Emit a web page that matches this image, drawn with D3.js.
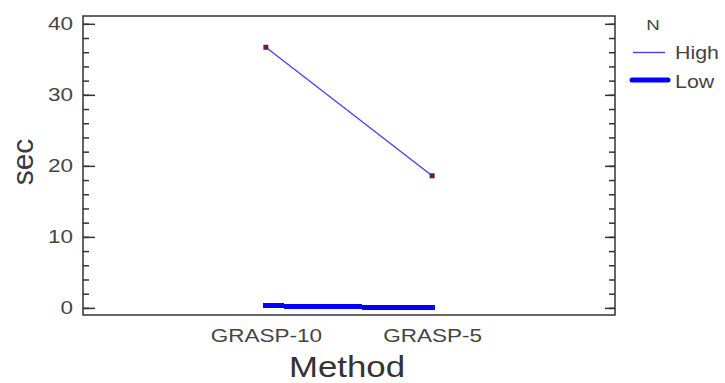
<!DOCTYPE html>
<html>
<head>
<meta charset="utf-8">
<script src="https://cdn.jsdelivr.net/npm/d3@7"></script>
<style>
  html, body { margin: 0; padding: 0; background: #fff; }
  svg { display: block; font-family: "Liberation Sans", Arial, sans-serif; }
</style>
</head>
<body>
<div id="chart"></div>
<script>
// data
const categories = ["GRASP-10", "GRASP-5"];
const seriesNames = ["High", "Low"];
const highValues = [36.7, 18.6];
const lowValues = [0.3, 0.0];
const yMajorTicks = [0, 10, 20, 30, 40];
const yMinorTicks = d3.range(0, 41, 2);

const W = 725, H = 383;
const margin = { top: 16, right: 110, bottom: 68, left: 83 };
const width = W - margin.left - margin.right;
const height = H - margin.top - margin.bottom;
const SX = 1.25; // text in the picture is stretched sideways

const svg = d3.select("#chart").append("svg")
  .attr("width", W).attr("height", H);

const g = svg.append("g")
  .attr("transform", `translate(${margin.left},${margin.top})`);

const x = d3.scalePoint().domain(categories).range([0, width]).padding(1.1);
const y = d3.scaleLinear().domain([-1, 41.1]).range([height, 0]);

// frame
g.append("rect")
  .attr("width", width).attr("height", height)
  .attr("fill", "none").attr("stroke", "#333").attr("stroke-width", 1.5);

// left axis: minor + major ticks pointing inward
g.append("g").call(d3.axisLeft(y).tickValues(yMinorTicks).tickSize(-6).tickFormat(""))
  .call(a => a.select(".domain").remove());
const yAxis = g.append("g")
  .call(d3.axisLeft(y).tickValues(yMajorTicks).tickSize(-12).tickPadding(10));
yAxis.select(".domain").remove();
yAxis.selectAll("text")
  .attr("x", 0)
  .attr("transform", `translate(-10,0) scale(${SX},1)`)
  .attr("fill", "#444").style("font-size", "18px");

// right axis
g.append("g").attr("transform", `translate(${width},0)`)
  .call(d3.axisRight(y).tickValues(yMinorTicks).tickSize(-6).tickFormat(""))
  .call(a => a.select(".domain").remove());
g.append("g").attr("transform", `translate(${width},0)`)
  .call(d3.axisRight(y).tickValues(yMajorTicks).tickSize(-10).tickFormat(""))
  .call(a => a.select(".domain").remove());

g.selectAll(".tick line").attr("stroke", "#333").attr("stroke-width", 1.5);

// bottom axis labels
const xAxis = g.append("g").attr("transform", `translate(0,${height})`)
  .call(d3.axisBottom(x).tickSize(0));
xAxis.select(".domain").remove();
xAxis.selectAll("text")
  .attr("y", 27.5).attr("dy", 0).attr("x", 0)
  .attr("transform", `scale(${SX},1)`)
  .attr("fill", "#444").style("font-size", "18px");

// axis titles
g.append("text")
  .attr("transform", `translate(${width / 2 - 2},${height + 62}) scale(1.2,1)`)
  .attr("text-anchor", "middle")
  .attr("fill", "#333").style("font-size", "29px")
  .text("Method");

svg.append("text")
  .attr("transform", `translate(33,162) rotate(-90)`)
  .attr("text-anchor", "middle")
  .attr("fill", "#3a3a44").style("font-size", "30px")
  .text("sec");

// lines
const line = d3.line().x((d, i) => x(categories[i])).y(d => y(d));

g.append("path").datum(lowValues)
  .attr("d", line).attr("fill", "none")
  .attr("stroke", "#0000ff").attr("stroke-width", 5)
  .attr("stroke-linecap", "square")
  .attr("shape-rendering", "crispEdges");

g.append("path").datum(highValues)
  .attr("d", line).attr("fill", "none")
  .attr("stroke", "#4444ee").attr("stroke-width", 1.4);

g.selectAll(".pt").data(highValues).join("rect")
  .attr("class", "pt")
  .attr("x", (d, i) => x(categories[i]) - 2.5)
  .attr("y", d => y(d) - 2.5)
  .attr("width", 5).attr("height", 5)
  .attr("fill", "#6e1848");

// legend
const legend = svg.append("g");
legend.append("text")
  .attr("transform", `translate(653,30) scale(${SX},1)`)
  .attr("text-anchor", "middle")
  .attr("fill", "#444").style("font-size", "15px")
  .text("N");

const legendStyle = {
  High: { x1: 633, x2: 665, y: 52.5, w: 1.4, color: "#4444ee", ty: 59 },
  Low: { x1: 632, x2: 668, y: 80, w: 5, color: "#0000ff", ty: 88 }
};
seriesNames.forEach(name => {
  const s = legendStyle[name];
  legend.append("line")
    .attr("x1", s.x1).attr("x2", s.x2).attr("y1", s.y).attr("y2", s.y)
    .attr("stroke", s.color).attr("stroke-width", s.w)
    .attr("stroke-linecap", name === "Low" ? "round" : "butt");
  legend.append("text")
    .attr("transform", `translate(675,${s.ty}) scale(${SX * 0.95},1)`)
    .attr("fill", "#444").style("font-size", "18px")
    .text(name);
});
</script>
</body>
</html>
